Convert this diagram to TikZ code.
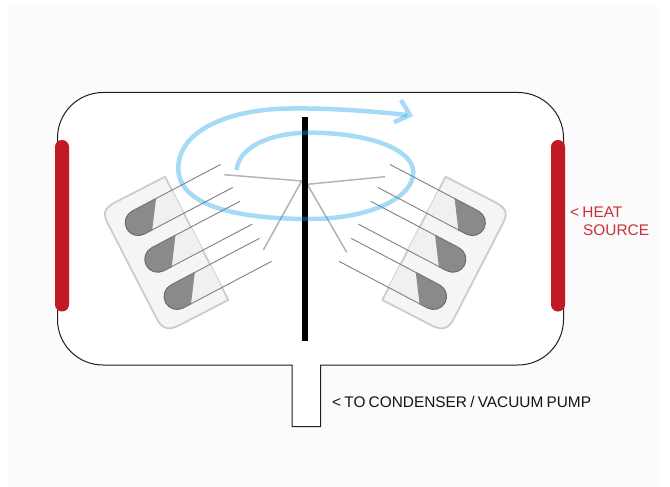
\documentclass[tikz,border=0pt]{standalone}
\usepackage{fontspec}
\setmainfont[WordSpace=0.75]{Liberation Sans}
\definecolor{panelbg}{HTML}{FBFBFB}
\definecolor{heatred}{HTML}{C21A22}
\definecolor{heattext}{HTML}{C9303A}
\definecolor{spinblue}{HTML}{1AA0EB}
\definecolor{holderfill}{HTML}{F5F5F5}
\definecolor{holderedge}{HTML}{CCCCCC}
\definecolor{tubelight}{HTML}{EFF0EF}
\definecolor{tubedark}{HTML}{8A8A8A}
\definecolor{rodgrey}{HTML}{B4B4B4}
\tikzset{
  chamberline/.style={draw=black!88,line width=1pt,fill=white},
  heater/.style={fill=heatred,rounded corners=6.9pt},
  rod/.style={draw=rodgrey,line width=1.5pt},
  tubeline/.style={draw=black!50,line width=.9pt},
  spin/.style={draw=spinblue,draw opacity=.38,line width=4.5pt,line join=miter},
  label/.style={inner sep=0pt,anchor=base west,font=\fontsize{15.4}{18.7}\selectfont},
}
\begin{document}
\begin{tikzpicture}[x=1pt,y=-1pt]
\useasboundingbox (0,0) rectangle (670,487);
\fill[white] (0,0) rectangle (670,487);
\fill[panelbg] (9,6) rectangle (660,487);
% chamber
\draw[chamberline]
  (103,92.5) -- (518,92.5) arc[start angle=-90,end angle=0,radius=45.5]
  -- (563.5,319.5) arc[start angle=0,end angle=90,radius=45.5]
  -- (320.7,365) -- (320.7,426.7) -- (292,426.7) -- (292,365)
  -- (103,365) arc[start angle=90,end angle=180,radius=45.5]
  -- (57.5,138) arc[start angle=180,end angle=270,radius=45.5] -- cycle;
% heaters
\fill[heater] (55,140) rectangle (69,311.5);
\fill[heater] (551,140) rectangle (565,311.5);
% tube racks, the right one mirrored
\foreach \sx/\dx in {1/0,-1/610.6}{
  \begin{scope}[xshift=\dx pt,xscale=\sx]
    \draw[draw=holderedge,fill=holderfill,line width=1.8pt,line join=round]
      (165,176.7) -- (228.3,300) -- (178.4,325.7)
      .. controls (167,331.5) and (161,327) .. (157,319.1)
      -- (108.1,224.1)
      .. controls (103,214) and (103,209) .. (115.1,202.4) -- cycle;
    \begin{scope}
      \clip (165,176.7) -- (228.3,300) -- (164.1,333) -- (100.8,209.8) -- cycle;
      \foreach \cx/\cy in {138.2/222.6,157.7/259.3,177/296.5}{
        \begin{scope}[shift={(\cx,\cy)},rotate=27.8]
          \fill[tubelight] (27,-13) -- (9,13) -- (90,13) -- (90,-13) -- cycle;
        \end{scope}
      }
    \end{scope}
    \foreach \cx/\cy in {138.2/222.6,157.7/259.3,177/296.5}{
      \begin{scope}[shift={(\cx,\cy)},rotate=27.8]
        \fill[tubedark] (27,-13) -- (0,-13) arc[start angle=270,end angle=90,radius=13] -- (9,13) -- cycle;
        \draw[black!60,line width=.9pt] (27,-13) -- (0,-13) arc[start angle=270,end angle=90,radius=13] -- (9,13);
        \draw[tubeline] (0,-13) -- (100,-13);
        \draw[tubeline] (0,13) -- (100,13);
      \end{scope}
    }
  \end{scope}
}
% rods
\draw[rod] (224.3,174.7) -- (301.7,181) -- (263.3,250);
\draw[rod] (385,176.7) -- (307.3,184.3) -- (346.7,252.3);
% centre bar
\fill[black] (302,117) rectangle (308,341);
% rotation path
\draw[spin]
  (236.7,170) .. controls (238,150) and (265,132.7) .. (310,132.7)
  .. controls (370,132.7) and (413.3,150) .. (413.3,172)
  .. controls (413.3,200) and (365,219) .. (310,219)
  .. controls (235,219) and (178.3,205) .. (178.3,168.3)
  .. controls (178.3,130) and (230,109) .. (290,108.5)
  .. controls (330,108) and (370,111) .. (407,115);
\draw[spin] (401,100) -- (410,115) -- (394,122.3);
% labels
\node[label,text=black!92] (pump) at (332,407.7) {< TO CONDENSER / VACUUM PUMP};
\node[label,text=heattext,align=left,anchor=north west] (heat) at (570,206.5) {< HEAT\\\hspace{13pt}SOURCE};
\end{tikzpicture}
\end{document}
